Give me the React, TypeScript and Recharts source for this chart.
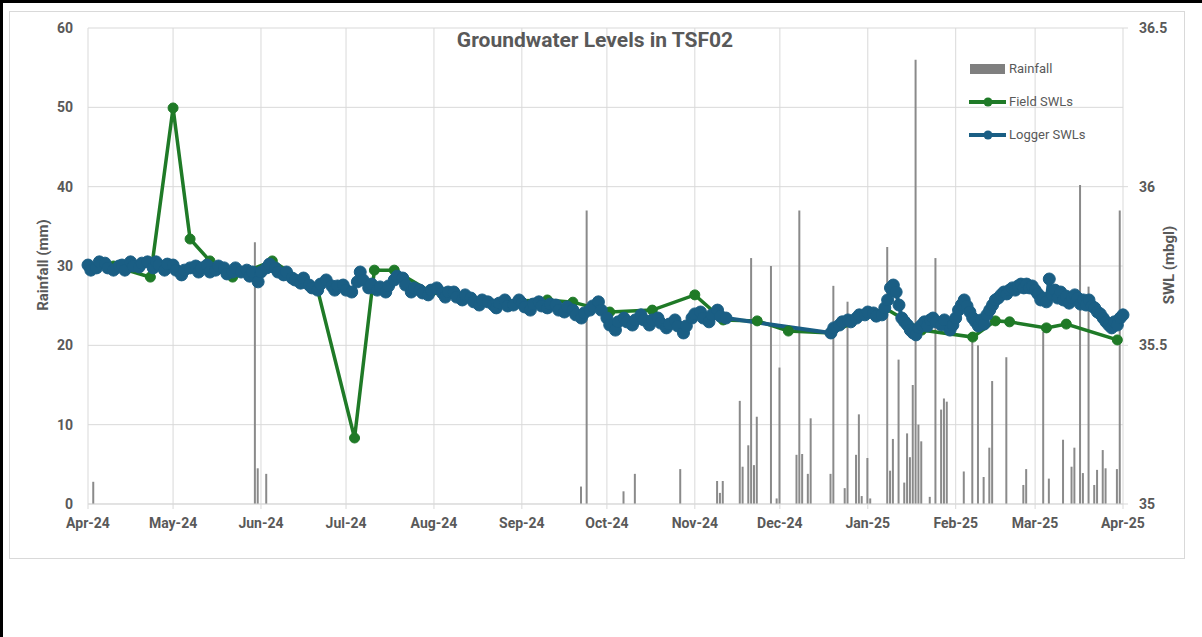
import React from 'react';
import { ComposedChart, Bar, Line, XAxis, YAxis, CartesianGrid, Legend } from 'recharts';

const tickDates = ["2024-04-01", "2024-05-01", "2024-06-01", "2024-07-01", "2024-08-01", "2024-09-01", "2024-10-01", "2024-11-01", "2024-12-01", "2025-01-01", "2025-02-01", "2025-03-01", "2025-04-01"];
const tickLabels = ["Apr-24", "May-24", "Jun-24", "Jul-24", "Aug-24", "Sep-24", "Oct-24", "Nov-24", "Dec-24", "Jan-25", "Feb-25", "Mar-25", "Apr-25"];

const rainDates = ["2024-04-03", "2024-05-30", "2024-05-31", "2024-06-03", "2024-09-22", "2024-09-24", "2024-10-07", "2024-10-11", "2024-10-27", "2024-11-09", "2024-11-10", "2024-11-11", "2024-11-17", "2024-11-18", "2024-11-20", "2024-11-21", "2024-11-22", "2024-11-23", "2024-11-28", "2024-11-30", "2024-12-01", "2024-12-07", "2024-12-08", "2024-12-09", "2024-12-11", "2024-12-12", "2024-12-19", "2024-12-20", "2024-12-24", "2024-12-25", "2024-12-28", "2024-12-29", "2024-12-30", "2025-01-01", "2025-01-02", "2025-01-08", "2025-01-09", "2025-01-10", "2025-01-12", "2025-01-14", "2025-01-15", "2025-01-16", "2025-01-17", "2025-01-18", "2025-01-19", "2025-01-20", "2025-01-23", "2025-01-25", "2025-01-27", "2025-01-28", "2025-01-29", "2025-02-04", "2025-02-07", "2025-02-09", "2025-02-11", "2025-02-13", "2025-02-14", "2025-02-19", "2025-02-25", "2025-02-26", "2025-03-04", "2025-03-06", "2025-03-11", "2025-03-14", "2025-03-15", "2025-03-17", "2025-03-18", "2025-03-20", "2025-03-22", "2025-03-23", "2025-03-25", "2025-03-26", "2025-03-30", "2025-03-31"];
const rainValues = [2.8, 33, 4.5, 3.8, 2.2, 37, 1.6, 3.8, 4.4, 2.9, 1.4, 2.9, 13, 4.7, 7.4, 31, 4.9, 11, 30, 0.7, 17.2, 6.2, 37, 6.3, 3.8, 10.8, 3.8, 27.5, 2.0, 25.5, 6.2, 11.3, 1.0, 5.8, 0.7, 32.4, 4.2, 8.2, 18.2, 2.7, 8.9, 5.9, 15.0, 56, 10, 7.9, 0.9, 31, 11.9, 13.3, 12.9, 4.1, 21.5, 20, 3.4, 7.1, 15.5, 18.5, 2.4, 4.4, 21.7, 3.2, 8.1, 4.7, 7.1, 40.2, 3.9, 27.4, 2.4, 4.3, 6.8, 4.5, 4.4, 37];

const fieldDates = ["2024-04-10", "2024-04-23", "2024-05-01", "2024-05-07", "2024-05-14", "2024-05-22", "2024-06-05", "2024-06-21", "2024-07-04", "2024-07-11", "2024-07-18", "2024-07-31", "2024-08-17", "2024-09-10", "2024-09-19", "2024-10-02", "2024-10-17", "2024-11-01", "2024-11-11", "2024-11-23", "2024-12-04", "2024-12-19", "2025-01-07", "2025-01-20", "2025-02-07", "2025-02-15", "2025-02-20", "2025-03-05", "2025-03-12", "2025-03-30"];
const fieldValues = [35.750, 35.715, 36.248, 35.835, 35.766, 35.715, 35.766, 35.674, 35.208, 35.737, 35.737, 35.668, 35.636, 35.643, 35.636, 35.605, 35.611, 35.659, 35.580, 35.577, 35.545, 35.539, 35.618, 35.548, 35.526, 35.577, 35.574, 35.555, 35.567, 35.517];

const loggerDates = [
  "2024-04-01", "2024-04-02", "2024-04-04", "2024-04-05", "2024-04-07", "2024-04-08", "2024-04-10", "2024-04-12", "2024-04-13", "2024-04-14",
  "2024-04-16", "2024-04-17", "2024-04-19", "2024-04-20", "2024-04-22", "2024-04-24", "2024-04-25", "2024-04-26", "2024-04-28", "2024-04-29",
  "2024-05-01", "2024-05-02", "2024-05-04", "2024-05-05", "2024-05-07", "2024-05-09", "2024-05-10", "2024-05-11", "2024-05-13", "2024-05-14",
  "2024-05-16", "2024-05-17", "2024-05-19", "2024-05-20", "2024-05-22", "2024-05-23", "2024-05-25", "2024-05-27", "2024-05-28", "2024-05-29",
  "2024-05-31", "2024-06-01", "2024-06-03", "2024-06-04", "2024-06-06", "2024-06-07", "2024-06-09", "2024-06-10", "2024-06-12", "2024-06-13",
  "2024-06-15", "2024-06-16", "2024-06-18", "2024-06-19", "2024-06-21", "2024-06-22", "2024-06-24", "2024-06-26", "2024-06-27", "2024-06-28",
  "2024-06-30", "2024-07-01", "2024-07-03", "2024-07-05", "2024-07-06", "2024-07-07", "2024-07-09", "2024-07-10", "2024-07-12", "2024-07-13",
  "2024-07-15", "2024-07-16", "2024-07-18", "2024-07-19", "2024-07-21", "2024-07-22", "2024-07-24", "2024-07-25", "2024-07-27", "2024-07-28",
  "2024-07-30", "2024-07-31", "2024-08-02", "2024-08-04", "2024-08-05", "2024-08-06", "2024-08-08", "2024-08-09", "2024-08-11", "2024-08-12",
  "2024-08-14", "2024-08-15", "2024-08-17", "2024-08-18", "2024-08-20", "2024-08-22", "2024-08-23", "2024-08-24", "2024-08-26", "2024-08-27",
  "2024-08-29", "2024-08-31", "2024-09-01", "2024-09-02", "2024-09-04", "2024-09-05", "2024-09-07", "2024-09-08", "2024-09-10", "2024-09-11",
  "2024-09-13", "2024-09-14", "2024-09-16", "2024-09-17", "2024-09-19", "2024-09-20", "2024-09-22", "2024-09-23", "2024-09-25", "2024-09-26",
  "2024-09-28", "2024-09-29", "2024-10-01", "2024-10-02", "2024-10-04", "2024-10-05", "2024-10-07", "2024-10-08", "2024-10-10", "2024-10-11",
  "2024-10-13", "2024-10-14", "2024-10-16", "2024-10-17", "2024-10-19", "2024-10-20", "2024-10-22", "2024-10-23", "2024-10-25", "2024-10-26",
  "2024-10-28", "2024-10-29", "2024-10-31", "2024-11-01", "2024-11-03", "2024-11-04", "2024-11-06", "2024-11-07", "2024-11-09", "2024-11-10",
  "2024-11-12", "2024-12-19", "2024-12-20", "2024-12-22", "2024-12-23", "2024-12-25", "2024-12-26", "2024-12-28", "2024-12-29", "2024-12-31",
  "2025-01-01", "2025-01-03", "2025-01-04", "2025-01-06", "2025-01-07", "2025-01-08", "2025-01-09", "2025-01-10", "2025-01-11", "2025-01-12",
  "2025-01-13", "2025-01-14", "2025-01-15", "2025-01-16", "2025-01-17", "2025-01-18", "2025-01-19", "2025-01-20", "2025-01-21", "2025-01-22",
  "2025-01-23", "2025-01-24", "2025-01-25", "2025-01-27", "2025-01-28", "2025-01-30", "2025-01-31", "2025-02-01", "2025-02-02", "2025-02-03",
  "2025-02-04", "2025-02-05", "2025-02-06", "2025-02-07", "2025-02-08", "2025-02-09", "2025-02-10", "2025-02-11", "2025-02-12", "2025-02-13",
  "2025-02-14", "2025-02-15", "2025-02-16", "2025-02-17", "2025-02-18", "2025-02-19", "2025-02-20", "2025-02-21", "2025-02-22", "2025-02-23",
  "2025-02-24", "2025-02-25", "2025-02-26", "2025-02-27", "2025-02-28", "2025-03-01", "2025-03-02", "2025-03-03", "2025-03-04", "2025-03-05",
  "2025-03-06", "2025-03-07", "2025-03-08", "2025-03-09", "2025-03-10", "2025-03-11", "2025-03-12", "2025-03-13", "2025-03-14", "2025-03-15",
  "2025-03-16", "2025-03-17", "2025-03-18", "2025-03-19", "2025-03-20", "2025-03-21", "2025-03-22", "2025-03-23", "2025-03-24", "2025-03-25",
  "2025-03-26", "2025-03-27", "2025-03-28", "2025-03-29", "2025-03-30", "2025-03-31", "2025-04-01"
];
const loggerValues = [
  35.753, 35.737, 35.744, 35.763, 35.759, 35.744, 35.737, 35.750, 35.753, 35.737,
  35.763, 35.750, 35.747, 35.759, 35.763, 35.744, 35.763, 35.753, 35.737, 35.756,
  35.753, 35.737, 35.722, 35.737, 35.744, 35.750, 35.731, 35.744, 35.753, 35.731,
  35.737, 35.750, 35.744, 35.725, 35.731, 35.744, 35.731, 35.737, 35.718, 35.731,
  35.700, 35.731, 35.744, 35.756, 35.744, 35.731, 35.722, 35.731, 35.712, 35.706,
  35.696, 35.712, 35.690, 35.681, 35.674, 35.693, 35.706, 35.687, 35.674, 35.687,
  35.690, 35.674, 35.668, 35.700, 35.731, 35.706, 35.681, 35.693, 35.674, 35.684,
  35.668, 35.687, 35.706, 35.718, 35.712, 35.690, 35.668, 35.681, 35.674, 35.665,
  35.659, 35.674, 35.681, 35.665, 35.652, 35.668, 35.668, 35.652, 35.643, 35.659,
  35.649, 35.637, 35.627, 35.643, 35.637, 35.627, 35.618, 35.633, 35.643, 35.624,
  35.627, 35.643, 35.633, 35.621, 35.611, 35.630, 35.637, 35.624, 35.618, 35.630,
  35.627, 35.611, 35.605, 35.621, 35.611, 35.596, 35.586, 35.602, 35.611, 35.624,
  35.637, 35.611, 35.586, 35.564, 35.548, 35.574, 35.586, 35.574, 35.564, 35.580,
  35.596, 35.580, 35.564, 35.580, 35.586, 35.570, 35.555, 35.567, 35.580, 35.561,
  35.539, 35.561, 35.586, 35.599, 35.605, 35.586, 35.574, 35.596, 35.611, 35.592,
  35.586, 35.539, 35.555, 35.564, 35.574, 35.580, 35.574, 35.586, 35.596, 35.596,
  35.605, 35.602, 35.592, 35.596, 35.618, 35.643, 35.681, 35.690, 35.668, 35.627,
  35.586, 35.574, 35.564, 35.548, 35.539, 35.533, 35.555, 35.564, 35.574, 35.561,
  35.580, 35.586, 35.574, 35.564, 35.580, 35.548, 35.564, 35.586, 35.611, 35.627,
  35.643, 35.624, 35.605, 35.586, 35.574, 35.561, 35.580, 35.567, 35.596, 35.611,
  35.627, 35.643, 35.649, 35.659, 35.668, 35.662, 35.674, 35.681, 35.674, 35.687,
  35.693, 35.681, 35.693, 35.681, 35.687, 35.674, 35.662, 35.643, 35.649, 35.637,
  35.709, 35.659, 35.674, 35.649, 35.668, 35.643, 35.655, 35.633, 35.649, 35.659,
  35.649, 35.630, 35.643, 35.627, 35.643, 35.624, 35.618, 35.605, 35.599, 35.586,
  35.574, 35.564, 35.555, 35.574, 35.564, 35.586, 35.596
];

const leftTicks = [0, 10, 20, 30, 40, 50, 60];
const rightTicks = [35, 35.5, 36, 36.5];

const GREEN = '#1f7a27';
const BLUE = '#1a5e84';
const RAIN = '#8a8a8a';
const TEXT = '#595959';
const GRID = '#d9d9d9';
const FONT = "Roboto, 'Liberation Sans', sans-serif";

type Row = { t: number; rain?: number; field?: number; logger?: number };

function buildData(): Row[] {
  const map = new Map<number, Row>();
  const put = (dates: string[], values: number[], key: 'rain' | 'field' | 'logger') => {
    dates.forEach((d, i) => {
      const t = Date.parse(d);
      const row = map.get(t) ?? { t };
      row[key] = values[i];
      map.set(t, row);
    });
  };
  put(rainDates, rainValues, 'rain');
  put(fieldDates, fieldValues, 'field');
  put(loggerDates, loggerValues, 'logger');
  return Array.from(map.values()).sort((a, b) => a.t - b.t);
}

const data = buildData();
const tickTs = tickDates.map((d) => Date.parse(d));
const fmtTick = (t: number) => {
  const i = tickTs.indexOf(t);
  return i >= 0 ? tickLabels[i] : '';
};

const legendItems = [
  { label: 'Rainfall', kind: 'bar', color: '#7f7f7f' },
  { label: 'Field SWLs', kind: 'line', color: GREEN },
  { label: 'Logger SWLs', kind: 'line', color: BLUE },
];

function LegendBox() {
  return (
    <div style={{ fontFamily: FONT, fontSize: 13, color: TEXT }}>
      {legendItems.map((it) => (
        <div key={it.label} style={{ height: 33, display: 'flex', alignItems: 'center' }}>
          <svg width={40} height={14} style={{ display: 'block' }}>
            {it.kind === 'bar' ? (
              <rect x={2} y={2} width={35} height={10} fill={it.color} />
            ) : (
              <g>
                <line x1={1} x2={38} y1={7} y2={7} stroke={it.color} strokeWidth={4} />
                <circle cx={20} cy={7} r={4.5} fill={it.color} />
              </g>
            )}
          </svg>
          <span style={{ marginLeft: 1, whiteSpace: 'nowrap' }}>{it.label}</span>
        </div>
      ))}
    </div>
  );
}

export default function App() {
  return (
    <div style={{ position: 'absolute', left: 0, top: 0, width: 1202, height: 637, background: '#fff', overflow: 'hidden' }}>
      <div style={{ position: 'absolute', left: 9, top: 11, width: 1174, height: 546, border: `1px solid ${GRID}` }} />
      <div style={{ position: 'absolute', left: 0, top: 0 }}>
        <ComposedChart width={1202} height={637} data={data} margin={{ top: 28, right: 29, bottom: 103, left: 38 }}>
          <CartesianGrid stroke={GRID} yAxisId="left" />
          <XAxis
            dataKey="t"
            type="number"
            domain={[tickTs[0], tickTs[tickTs.length - 1]]}
            ticks={tickTs}
            interval={0}
            tickFormatter={fmtTick}
            height={30}
            tickSize={5}
            tickMargin={9}
            axisLine={{ stroke: GRID }}
            tickLine={{ stroke: GRID }}
            tick={{ fill: TEXT, fontSize: 14, fontWeight: 700, fontFamily: FONT }}
          />
          <YAxis
            yAxisId="left"
            orientation="left"
            domain={[0, 60]}
            ticks={leftTicks}
            width={50}
            axisLine={false}
            tickLine={false}
            tickSize={6}
            tickMargin={9}
            tick={{ fill: TEXT, fontSize: 14, fontWeight: 700, fontFamily: FONT }}
          />
          <YAxis
            yAxisId="right"
            orientation="right"
            domain={[35, 36.5]}
            ticks={rightTicks}
            width={50}
            axisLine={false}
            tickLine={{ stroke: GRID }}
            tickSize={5}
            tickMargin={11}
            tick={{ fill: TEXT, fontSize: 14, fontWeight: 700, fontFamily: FONT }}
          />
          <Bar yAxisId="left" dataKey="rain" name="Rainfall" fill={RAIN} barSize={2} isAnimationActive={false} />
          <Line
            yAxisId="right"
            dataKey="field"
            name="Field SWLs"
            stroke={GREEN}
            strokeWidth={3.5}
            dot={{ r: 5, fill: GREEN, stroke: GREEN, strokeWidth: 1 }}
            connectNulls
            isAnimationActive={false}
          />
          <Line
            yAxisId="right"
            dataKey="logger"
            name="Logger SWLs"
            stroke={BLUE}
            strokeWidth={4}
            dot={{ r: 6, fill: BLUE, stroke: BLUE, strokeWidth: 1 }}
            connectNulls
            isAnimationActive={false}
          />
          <Legend
            layout="vertical"
            align="center"
            verticalAlign="middle"
            wrapperStyle={{ left: 968, top: 52, width: 150 }}
            content={() => <LegendBox />}
          />
        </ComposedChart>
      </div>
      <svg width={1202} height={637} style={{ position: 'absolute', left: 0, top: 0, pointerEvents: 'none' }}>
        <text x={595} y={47} textAnchor="middle" fontFamily={FONT} fontSize={21} fontWeight={700} fill={TEXT}>
          Groundwater Levels in TSF02
        </text>
        <text x={43} y={265} textAnchor="middle" dominantBaseline="central" transform="rotate(-90 43 265)" fontFamily={FONT} fontSize={15} fontWeight={700} fill={TEXT}>
          Rainfall (mm)
        </text>
        <text x={1169} y={265} textAnchor="middle" dominantBaseline="central" transform="rotate(-90 1169 265)" fontFamily={FONT} fontSize={15} fontWeight={700} fill={TEXT}>
          SWL (mbgl)
        </text>
      </svg>
      <div style={{ position: 'absolute', left: 0, top: 0, width: 1202, height: 3, background: '#000' }} />
      <div style={{ position: 'absolute', left: 0, top: 0, width: 3, height: 637, background: '#000' }} />
    </div>
  );
}
